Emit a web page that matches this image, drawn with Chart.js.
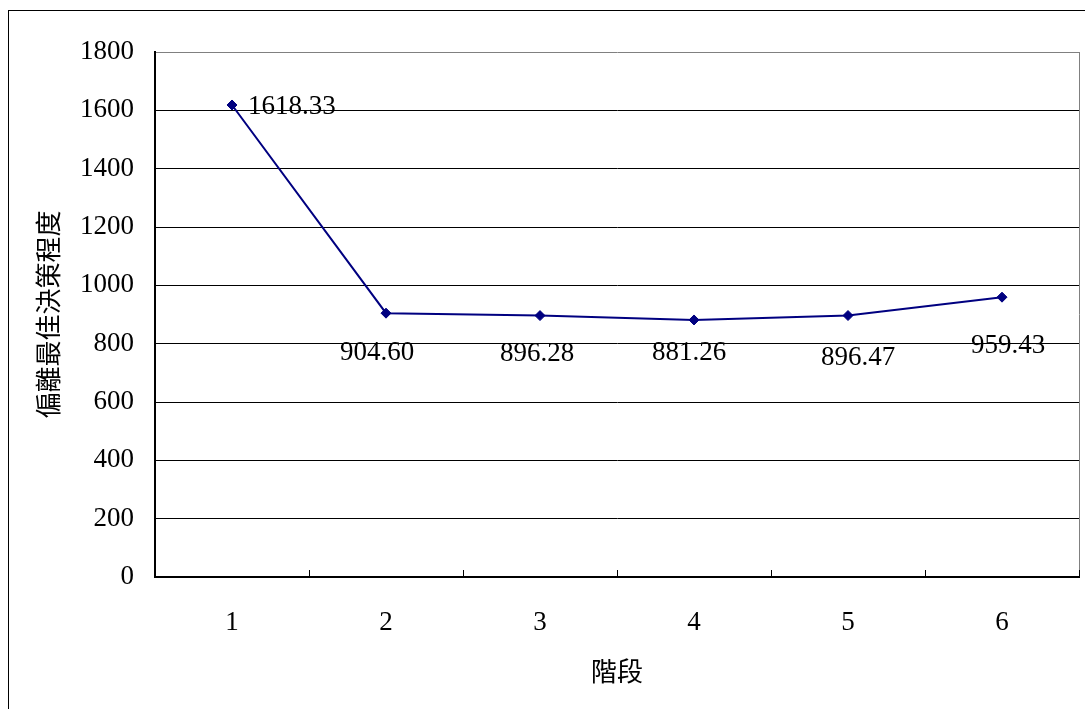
<!DOCTYPE html>
<html>
<head>
<meta charset="utf-8">
<script src="https://cdn.jsdelivr.net/npm/chart.js@4/dist/chart.umd.min.js"></script>
<style>
  html, body { margin: 0; padding: 0; background: #fff; overflow: hidden; }
  #wrap { position: relative; width: 1085px; height: 709px; }
  canvas { display: block; }
</style>
</head>
<body>
<div id="wrap"><canvas id="c" width="1085" height="709"></canvas></div>
<script>
// Stages and the deviation from the best decision at each stage
const stages = ['1', '2', '3', '4', '5', '6'];
const deviation = [1618.33, 904.60, 896.28, 881.26, 896.47, 959.43];
const yTitle = '偏離最佳決策程度';
const xTitle = '階段';

// Value label placement (pixel nudges relative to each point)
const labelAlign = ['left', 'center', 'center', 'center', 'center', 'center'];
const labelDx = [16, -9, -3, -5, 10, 6];
const labelDy = [2, 40, 38, 33, 42, 49];

const SERIF = '"Liberation Serif", "Times New Roman", serif';
const CJK = '"Noto Sans CJK TC", "Noto Sans CJK SC", sans-serif';

const frameAndLabels = {
  id: 'frameAndLabels',
  beforeDraw(chart) {
    const ctx = chart.ctx;
    ctx.save();
    ctx.fillStyle = '#ffffff';
    ctx.fillRect(0, 0, chart.width, chart.height);
    ctx.strokeStyle = '#000000';
    ctx.lineWidth = 1;
    ctx.strokeRect(8.5, 10.5, 2000, 2000);
    ctx.restore();
  },
  afterDraw(chart) {
    const ctx = chart.ctx;
    const area = chart.chartArea;
    const xs = chart.scales.x;
    ctx.save();
    // right edge of the plot area
    ctx.strokeStyle = '#808080';
    ctx.lineWidth = 1;
    ctx.beginPath();
    ctx.moveTo(Math.round(area.right) + 0.5, area.top);
    ctx.lineTo(Math.round(area.right) + 0.5, area.bottom);
    ctx.stroke();
    // inward tick marks between categories
    ctx.strokeStyle = '#000000';
    ctx.beginPath();
    for (let i = 0; i <= stages.length; i++) {
      const px = Math.round(xs.getPixelForValue(i - 0.5)) + 0.5;
      ctx.moveTo(px, area.bottom - 7);
      ctx.lineTo(px, area.bottom);
    }
    ctx.stroke();
    // value labels
    const meta = chart.getDatasetMeta(0);
    ctx.font = '27px ' + SERIF;
    ctx.fillStyle = '#000000';
    ctx.textBaseline = 'middle';
    meta.data.forEach((pt, i) => {
      ctx.textAlign = labelAlign[i];
      ctx.fillText(deviation[i].toFixed(2), pt.x + labelDx[i], pt.y + labelDy[i]);
    });
    ctx.restore();
  }
};

new Chart(document.getElementById('c'), {
  type: 'line',
  data: {
    labels: stages,
    datasets: [{
      data: deviation,
      borderColor: '#000080',
      backgroundColor: '#000080',
      borderWidth: 2,
      pointStyle: 'rectRot',
      pointRadius: 5,
      pointBorderWidth: 1,
      pointBorderColor: '#000080',
      pointBackgroundColor: '#000080',
      tension: 0
    }]
  },
  options: {
    responsive: false,
    animation: false,
    devicePixelRatio: 1,
    layout: { padding: { top: 52, right: 4, left: 0, bottom: 0 } },
    plugins: { legend: { display: false }, tooltip: { enabled: false } },
    scales: {
      x: {
        type: 'category',
        offset: true,
        grid: { display: false, drawTicks: false },
        border: { display: true, color: '#000000', width: 2 },
        ticks: { color: '#000000', font: { family: SERIF, size: 27 }, padding: 30, maxRotation: 0 },
        title: {
          display: true, text: xTitle, color: '#000000',
          font: { family: CJK, size: 26, lineHeight: 1 },
          padding: { top: 0, bottom: 25 }
        },
        afterFit(scale) {
          scale.height = 132;
          scale.paddingLeft = 0;
          scale.paddingRight = 0;
        }
      },
      y: {
        min: 0,
        max: 1800,
        ticks: {
          stepSize: 200, color: '#000000', font: { family: SERIF, size: 27 }, padding: 21,
          callback: (v) => String(v)
        },
        grid: {
          drawTicks: false,
          lineWidth: 1,
          color: (c) => (c.tick && c.tick.value === 1800 ? '#808080' : '#000000')
        },
        border: { display: true, color: '#000000', width: 2 },
        title: {
          display: true, text: yTitle, color: '#000000',
          font: { family: CJK, size: 26, lineHeight: 1 },
          padding: { top: 35, bottom: 0 }
        },
        afterFit(scale) { scale.width = 155; }
      }
    }
  },
  plugins: [frameAndLabels]
});
</script>
</body>
</html>
